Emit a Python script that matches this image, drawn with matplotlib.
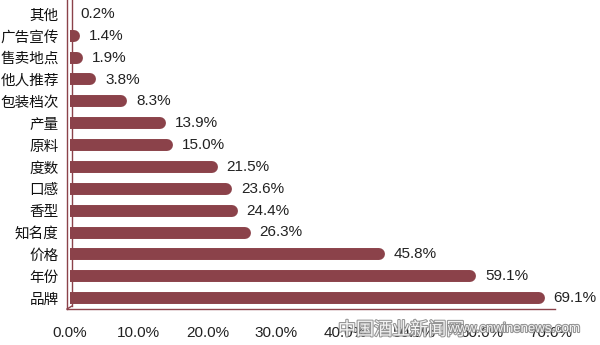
import matplotlib
matplotlib.use('Agg')
import matplotlib.pyplot as plt
import matplotlib.patheffects as pe

plt.rcParams['font.family'] = ['Liberation Sans', 'Noto Sans CJK SC']

# data (bottom to top)
categories = ['品牌', '年份', '价格', '知名度', '香型', '口感', '度数',
              '原料', '产量', '包装档次', '他人推荐', '售卖地点', '广告宣传', '其他']
values = [69.1, 59.1, 45.8, 26.3, 24.4, 23.6, 21.5,
          15.0, 13.9, 8.3, 3.8, 1.9, 1.4, 0.2]
xticks = [0, 10, 20, 30, 40, 50, 60, 70]

bar_color = '#8b424a'

fig = plt.figure(figsize=(6.0, 3.45), dpi=100)
ax = fig.add_axes([70/600, 36/345, 481/600, 306/345])

ypos = list(range(len(categories)))
# rounded bars: thick lines with round caps
lw = 8.6
cap = 0.85  # cap radius in data units (approx)
for y, v in zip(ypos, values):
    ax.hlines(y, 0, max(v - cap, 0.05), color=bar_color, lw=lw, capstyle='round', zorder=3)
    ax.text(v + 1.3, y, '%.1f%%' % v, va='center', ha='left', fontsize=11, color='#222222')

ax.set_xlim(0, 70)
ax.set_ylim(-0.5, len(categories) - 0.5)
ax.set_yticks(ypos)
ax.set_yticklabels(categories, fontsize=10.5, color='#111111')
ax.set_xticks(xticks)
ax.set_xticklabels(['%.1f%%' % t for t in xticks], fontsize=11, color='#222222')
ax.tick_params(axis='y', length=0, pad=8)
ax.tick_params(axis='x', length=0, pad=12)
for s in ax.spines.values():
    s.set_visible(False)

# wall and floor
tr = fig.transFigure
fig.add_artist(plt.Line2D([67/600, 67/600], [1 - 309/345, 1.0], transform=tr, color=bar_color, lw=1.0))
fig.add_artist(plt.Line2D([72/600, 72/600], [1 - 306/345, 1.0], transform=tr, color=bar_color, lw=1.0))
fig.add_artist(plt.Line2D([67/600, 72/600], [1 - 309/345, 1 - 306/345], transform=tr, color=bar_color, lw=1.0))
fig.add_artist(plt.Line2D([67/600, 555/600], [1 - 309/345, 1 - 309/345], transform=tr, color=bar_color, lw=1.0))

# watermark (drawn over the tick labels as in the source image)
wm = [pe.withStroke(linewidth=1.5, foreground='#888888')]
fig.text(338/600, 1 - 330/345, '中国酒业新闻网', fontsize=13, color='white', va='center',
         family=['Noto Sans CJK SC'], path_effects=wm, alpha=0.9)
fig.text(448/600, 1 - 329/345, 'www.cnwinenews.com', fontsize=9.5, color='white', va='center',
         path_effects=wm, alpha=0.9)

fig.savefig('out.png', dpi=100)
